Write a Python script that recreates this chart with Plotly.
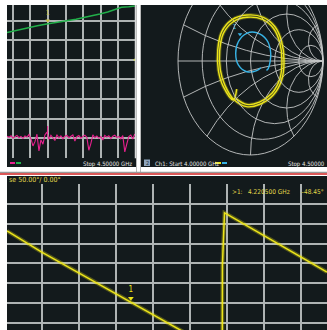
import numpy as np
import plotly.graph_objects as go

W, H = 327, 330

# ---------------- data ----------------
# top-left trace window (log mag, dB)
tl_start, tl_stop, tl_points = 4.1335, 4.4970, 65
green_freq = [4.1335, 4.1520, 4.1700, 4.1983, 4.2200, 4.2463, 4.2700, 4.3068, 4.3300,
              4.3551, 4.3780, 4.3977, 4.4200, 4.4452, 4.4594, 4.4800, 4.4972]
green_db = [-16.1, -15.3, -14.6, -13.4, -12.6, -11.7, -11.1, -10.2, -9.3,
            -8.3, -7.5, -6.6, -5.6, -4.2, -3.2, -2.9, -2.5]
magenta_db = [-69.0, -69.6, -68.8, -69.9, -69.3, -68.6, -69.8, -69.1, -70.2, -68.9,
              -69.5, -68.2, -70.4, -74.0, -71.8, -68.0, -76.5, -70.9, -73.1, -68.4,
              -66.9, -70.6, -68.5, -69.7, -71.2, -68.3, -69.9, -68.8, -70.3, -69.0,
              -68.6, -69.8, -69.2, -68.4, -71.5, -69.3, -68.7, -70.0, -69.1, -68.5,
              -69.6, -76.2, -72.8, -68.3, -69.8, -68.9, -70.1, -69.2, -71.0, -68.6,
              -69.5, -68.8, -70.2, -69.0, -68.5, -69.7, -69.1, -70.3, -68.7, -77.0,
              -73.0, -69.2, -68.4, -70.5, -67.9]
tl_marker_freq = [4.2492]
tl_marker_green_db = [-10.0]
tl_marker_mag_db = [-65.6]

# Smith chart traces (reflection coefficient, real / imaginary)
yellow_re = [-0.190, -0.237, -0.375, -0.444, -0.452, -0.397, -0.259, -0.052, 0.177, 0.338,
             0.430, 0.462, 0.430, 0.314, 0.131, -0.052, -0.230, -0.352, -0.417, -0.425,
             -0.373, -0.243, -0.049, 0.166, 0.318, 0.404, 0.434, 0.404, 0.295, 0.123,
             -0.049, -0.200]
yellow_im = [-0.300, -0.415, -0.273, -0.096, 0.117, 0.312, 0.437, 0.489, 0.465, 0.364,
             0.205, 0.000, -0.202, -0.362, -0.460, -0.486, -0.410, -0.259, -0.091, 0.111,
             0.296, 0.415, 0.465, 0.442, 0.346, 0.195, 0.000, -0.192, -0.344, -0.437,
             -0.462, -0.400]
cyan_re = [0.141, 0.086, -0.052, -0.168, -0.204, -0.168, -0.052, 0.086, 0.223, 0.279, 0.246, 0.220]
cyan_im = [-0.071, -0.103, -0.114, -0.042, 0.082, 0.205, 0.295, 0.301, 0.224, 0.082, -0.078, -0.100]
cyan_marker = (-0.145, 0.285)

# bottom: phase (deg)
phase_freq = [4.0531, 4.1000, 4.1500, 4.2000, 4.2500, 4.3000, 4.3440, 4.3442, 4.3470,
              4.3490, 4.4000, 4.4500, 4.4855]
phase_deg = [132.0, 78.7, 26.0, -26.7, -79.5, -132.2, -178.7, 45.0, 177.8,
             176.0, 120.4, 66.4, 28.1]
marker_freq, marker_phase = 4.2205, -48.45

# ---------------- style ----------------
BG = "#131a1c"
GRID = "#aeb3b3"
SGRID = "#c4c6c6"
YEL = "#ece41a"
TXTY = "#e2d84a"
FONT = "Liberation Sans Narrow, DejaVu Sans Condensed, Arial Narrow, sans-serif"

# Smith chart geometry on screen (display is stretched vertically)
SM_CX, SM_CY, SM_RX, SM_RY = 250.5, 61.0, 72.5, 94.0


def px2x(px):
    return px / W


def px2y(py):
    return 1 - py / H


fig = go.Figure()

tl_freq = np.linspace(tl_start, tl_stop, tl_points)

# top-left traces
fig.add_trace(go.Scatter(x=tl_freq, y=magenta_db, mode="lines",
                         line=dict(color="#e8208e", width=1.1), xaxis="x", yaxis="y"))
fig.add_trace(go.Scatter(x=green_freq, y=green_db, mode="lines",
                         line=dict(color="#22b04a", width=1.6), xaxis="x", yaxis="y"))
fig.add_trace(go.Scatter(x=tl_marker_freq, y=tl_marker_green_db, mode="markers+text",
                         marker=dict(symbol="triangle-down", size=4, color="#c8c040"),
                         text=["1"], textposition="top center",
                         textfont=dict(size=7, color="#c8c040", family=FONT),
                         xaxis="x", yaxis="y"))
fig.add_trace(go.Scatter(x=tl_marker_freq, y=tl_marker_mag_db, mode="markers",
                         marker=dict(symbol="line-ns", size=5, line=dict(color="#e8208e", width=1)),
                         xaxis="x", yaxis="y"))
fig.add_trace(go.Scatter(x=[4.4995], y=[-30], mode="markers",
                         marker=dict(symbol="triangle-left", size=5, color="#c8d040"),
                         xaxis="x", yaxis="y", cliponaxis=False))

# Smith grid (constant-reactance arcs + real axis)
gx, gy = [-1, 1, None], [0, 0, None]
rr = np.concatenate([np.linspace(0, 2, 120), np.logspace(np.log10(2.02), 4, 120)])
for X in [0.2, 0.5, 1, 2, 5, -0.2, -0.5, -1, -2, -5]:
    g = (rr + 1j * X - 1) / (rr + 1j * X + 1)
    gx += list(g.real) + [None]
    gy += list(g.imag) + [None]
fig.add_trace(go.Scatter(x=gx, y=gy, mode="lines", line=dict(color=SGRID, width=0.9),
                         hoverinfo="skip", xaxis="x2", yaxis="y2"))
# Smith traces
fig.add_trace(go.Scatter(x=yellow_re, y=yellow_im, mode="lines", line_shape="spline",
                         line=dict(color="rgba(236,228,26,0.25)", width=3.5), xaxis="x2", yaxis="y2"))
fig.add_trace(go.Scatter(x=yellow_re, y=yellow_im, mode="lines", line_shape="spline",
                         line=dict(color=YEL, width=1.4), xaxis="x2", yaxis="y2"))
fig.add_trace(go.Scatter(x=cyan_re, y=cyan_im, mode="lines", line_shape="spline",
                         line=dict(color="#38b4e6", width=1.4), xaxis="x2", yaxis="y2"))
fig.add_trace(go.Scatter(x=[cyan_marker[0]], y=[cyan_marker[1]], mode="markers+text",
                         marker=dict(symbol="triangle-down", size=4, color="#38b4e6"),
                         text=["1"], textposition="top left",
                         textfont=dict(size=7, color="#38b4e6", family=FONT),
                         xaxis="x2", yaxis="y2"))

# bottom phase
fig.add_trace(go.Scatter(x=phase_freq, y=phase_deg, mode="lines",
                         line=dict(color="rgba(236,228,26,0.3)", width=4), xaxis="x3", yaxis="y3"))
fig.add_trace(go.Scatter(x=phase_freq, y=phase_deg, mode="lines",
                         line=dict(color=YEL, width=1.5), xaxis="x3", yaxis="y3"))
fig.add_trace(go.Scatter(x=[marker_freq], y=[marker_phase + 10], mode="markers+text",
                         marker=dict(symbol="triangle-down", size=5, color=YEL),
                         text=["1"], textposition="top center",
                         textfont=dict(size=8, color=YEL, family=FONT),
                         xaxis="x3", yaxis="y3"))

ax_common = dict(showticklabels=False, zeroline=False, showline=False, ticks="",
                 gridcolor=GRID, gridwidth=1.5, fixedrange=True)
ax_plain = dict(showticklabels=False, zeroline=False, showline=False, ticks="",
                showgrid=False, fixedrange=True)

shapes = []
# dark panels
for (x0, x1, y0, y1) in [(7, 136, 5, 167), (141, 327, 5, 167), (7, 327, 176, 330)]:
    shapes.append(dict(type="rect", xref="paper", yref="paper", x0=px2x(x0), x1=px2x(x1),
                       y0=px2y(y1), y1=px2y(y0), fillcolor=BG, line_width=0, layer="below"))
# separators
for xp in [136.5, 140.5]:
    shapes.append(dict(type="line", xref="paper", yref="paper", x0=px2x(xp), x1=px2x(xp),
                       y0=px2y(172), y1=px2y(5), line=dict(color="#b8b8b8", width=1)))
shapes.append(dict(type="line", xref="paper", yref="paper", x0=0, x1=1, y0=px2y(172.3), y1=px2y(172.3),
                   line=dict(color="#808080", width=1)))
shapes.append(dict(type="line", xref="paper", yref="paper", x0=0, x1=1, y0=px2y(174), y1=px2y(174),
                   line=dict(color="#d02020", width=1.6)))
# right edge line of top-left grid
shapes.append(dict(type="line", xref="paper", yref="paper", x0=px2x(135.5), x1=px2x(135.5),
                   y0=px2y(158.3), y1=px2y(5), line=dict(color="#d8dada", width=1.5)))
# Smith constant-resistance circles
for r in [0, 0.2, 0.5, 1, 2, 5]:
    c, rad = r / (1 + r), 1 / (1 + r)
    shapes.append(dict(type="circle", xref="x2", yref="y2", x0=c - rad, x1=c + rad, y0=-rad, y1=rad,
                       line=dict(color=SGRID, width=0.9)))
# status-bar legend chips
shapes += [
    dict(type="rect", xref="paper", yref="paper", x0=px2x(10), x1=px2x(15), y0=px2y(164), y1=px2y(162),
         fillcolor="#e8208e", line_width=0),
    dict(type="rect", xref="paper", yref="paper", x0=px2x(16), x1=px2x(21), y0=px2y(164), y1=px2y(162),
         fillcolor="#22b04a", line_width=0),
    dict(type="rect", xref="paper", yref="paper", x0=px2x(215), x1=px2x(221), y0=px2y(164), y1=px2y(162),
         fillcolor=YEL, line_width=0),
    dict(type="rect", xref="paper", yref="paper", x0=px2x(222), x1=px2x(227), y0=px2y(164), y1=px2y(162),
         fillcolor="#38b4e6", line_width=0),
    dict(type="rect", xref="paper", yref="paper", x0=px2x(144), x1=px2x(150), y0=px2y(166), y1=px2y(159.5),
         fillcolor="#8ea4bc", line_width=0),
]


def ann(text, xp, yp, anchor="left", color="#e6e6e6", size=6):
    return dict(text=text, x=px2x(xp), y=px2y(yp), xref="paper", yref="paper", xanchor=anchor,
                yanchor="middle", showarrow=False, font=dict(family=FONT, size=size, color=color))


annotations = [
    ann("Stop 4.50000 GHz", 133.5, 163.5, anchor="right"),
    ann("2", 147, 163, anchor="center", color="#203040", size=5.5),
    ann("Ch1: Start 4.00000 GHz", 153, 163.5),
    ann("Stop 4.50000", 326.5, 163.5, anchor="right"),
    ann("se 50.00°/ 0.00°", 7, 180, color=TXTY, size=7),
    ann(">1:", 230, 191.5, color=TXTY, size=6.5),
    ann("4.220500 GHz", 246, 191.5, color=TXTY, size=6.5),
    ann("–48.45°", 326, 191.5, anchor="right", color=TXTY, size=6.5),
]

fig.update_layout(
    width=W, height=H, margin=dict(l=0, r=0, t=0, b=0), autosize=False,
    paper_bgcolor="white", plot_bgcolor=BG, showlegend=False,
    xaxis=dict(domain=[px2x(7), px2x(136)], range=[tl_start, 4.5005], dtick=0.05, tick0=4.0, **ax_common),
    yaxis=dict(domain=[px2y(158.3), px2y(5)], range=[-80.3, -2.03], dtick=10, tick0=0, **ax_common),
    xaxis2=dict(domain=[px2x(141), 1], range=[(141 - SM_CX) / SM_RX, (327 - SM_CX) / SM_RX], **ax_plain),
    yaxis2=dict(domain=[px2y(158), px2y(5)], range=[(SM_CY - 158) / SM_RY, (SM_CY - 5) / SM_RY], **ax_plain),
    xaxis3=dict(domain=[px2x(7), 1], range=[4.0531, 4.4855], dtick=0.05, tick0=4.0, **ax_common),
    yaxis3=dict(domain=[0, px2y(184)], range=[-118.7, 251.0], dtick=50, tick0=0, **ax_common),
    shapes=shapes, annotations=annotations,
)

fig.write_html("out.html", config={"displayModeBar": False})
